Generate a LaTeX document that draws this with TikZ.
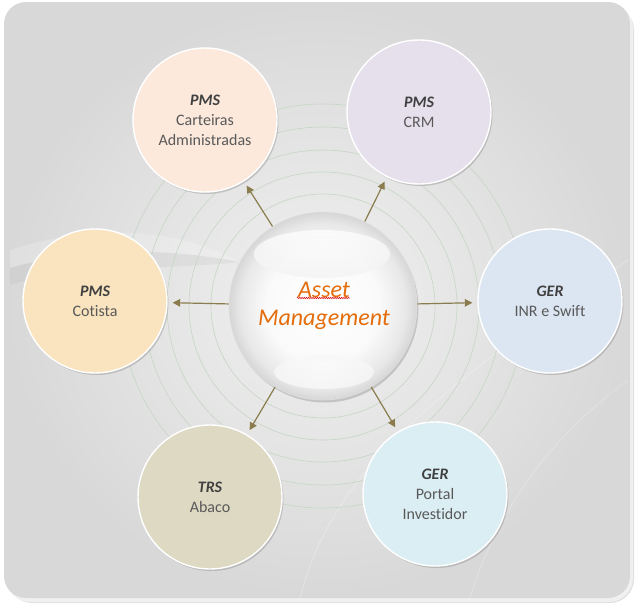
\documentclass[tikz,border=0pt]{standalone}
\usepackage{fontspec}
\setmainfont[Ligatures=NoCommon]{Carlito}
\usetikzlibrary{arrows.meta,shadows,decorations.pathmorphing}
\definecolor{bgin}{HTML}{F1F1F1}
\definecolor{bgout}{HTML}{D8D8D8}
\definecolor{ringc}{HTML}{C6D6C4}
\definecolor{arrc}{HTML}{8A7C4C}
\definecolor{titc}{HTML}{404040}
\definecolor{txtc}{HTML}{595959}
\definecolor{orangec}{HTML}{E46C0A}
\definecolor{cpeach}{HTML}{FCE9DC}
\definecolor{clav}{HTML}{E5E0EC}
\definecolor{cwheat}{HTML}{FAE4BF}
\definecolor{cblue}{HTML}{DCE6F2}
\definecolor{ckhaki}{HTML}{DDD9C3}
\definecolor{ccyan}{HTML}{DBEEF3}
\pgfdeclareradialshading{hubshade}{\pgfpoint{0bp}{0bp}}{color(0bp)=(white); color(15bp)=(white!98!black); color(22bp)=(white!91!black); color(25bp)=(white!84!black); color(50bp)=(white!84!black)}
\tikzset{
  sat/.style={circle, minimum size=144pt, inner sep=0pt, draw=white, line width=1.4pt,
    align=center, text=txtc, font=\fontsize{16}{20}\selectfont,
    drop shadow={shadow xshift=1.5pt, shadow yshift=-2pt, opacity=0.35, fill=gray}},
  hub/.style={circle, minimum size=188pt, inner sep=0pt, draw=white!88!black, line width=0.6pt,
    shading=hubshade,
    drop shadow={shadow xshift=1.5pt, shadow yshift=-2.5pt, opacity=0.35, fill=gray}},
  ring/.style={draw=ringc, line width=0.6pt},
  arr/.style={draw=arrc, line width=1.2pt, -{Triangle[length=7.5pt,width=7.5pt]}, shorten >=5pt},
}
\newcommand{\ttlx}[1]{{\bfseries\itshape\color{titc}#1}}
\begin{document}
\begin{tikzpicture}[x=1pt,y=-1pt]
\useasboundingbox (0,0) rectangle (635,605);
% frame shadow
\fill[black!12, rounded corners=24pt] (8,6) rectangle (634,603);
\fill[black!6, rounded corners=24pt] (6,4) rectangle (633,602);
\shade[rounded corners=22pt, inner color=bgin, outer color=bgout] (4,2) rectangle (630,598);
% faint background swooshes
\fill[white, opacity=0.2] (10,250) .. controls (120,215) and (200,240) .. (240,262) .. controls (180,250) and (90,245) .. (10,268) -- cycle;
\fill[black, opacity=0.035] (10,268) .. controls (90,245) and (180,250) .. (240,262) .. controls (170,270) and (80,265) .. (10,285) -- cycle;
\draw[white, opacity=0.3, line width=0.8pt] (300,598) .. controls (330,480) and (420,400) .. (628,260);
\draw[white, opacity=0.25, line width=0.8pt] (470,598) .. controls (500,500) and (560,430) .. (628,380);
% hub coordinate and rings
\coordinate (hc) at (323,306);
\foreach \r in {112,134,156,179,202} \draw[ring] (hc) circle (\r);
% satellites
\node[sat, fill=cpeach] (carteiras) at (205,120) {\ttlx{PMS}\\Carteiras\\Administradas};
\node[sat, fill=clav] (crm) at (419,112) {\ttlx{PMS}\\CRM};
\node[sat, fill=cwheat] (cotista) at (95,301) {\ttlx{PMS}\\Cotista};
\node[sat, fill=cblue] (inr) at (550,301) {\ttlx{GER}\\INR e Swift};
\node[sat, fill=ckhaki] (abaco) at (210,497) {\ttlx{TRS}\\Abaco};
\node[sat, fill=ccyan] (portal) at (435,494) {\ttlx{GER}\\Portal\\Investidor};
% hub
\node[hub] (hub) at (hc) {};
\shade[top color=white, bottom color=black!5, opacity=0.75] (322,254) ellipse (68pt and 24pt);
\shade[top color=black!3, bottom color=white, opacity=0.6] (324,372) ellipse (50pt and 17pt);
\node[text=orangec, align=center, font=\itshape\fontsize{24}{28}\selectfont] (lbl) at (324,306) {Asset\\Management};
\coordinate (w1) at (297,298);
\coordinate (w2) at (350,298);
\draw[red!85!black, line width=0.5pt, decorate, decoration={snake, segment length=2.2pt, amplitude=0.7pt}] (w1) -- (w2);
% arrows
\foreach \t in {carteiras,crm,cotista,inr,abaco,portal} \draw[arr] (hub) -- (\t);
\end{tikzpicture}
\end{document}
